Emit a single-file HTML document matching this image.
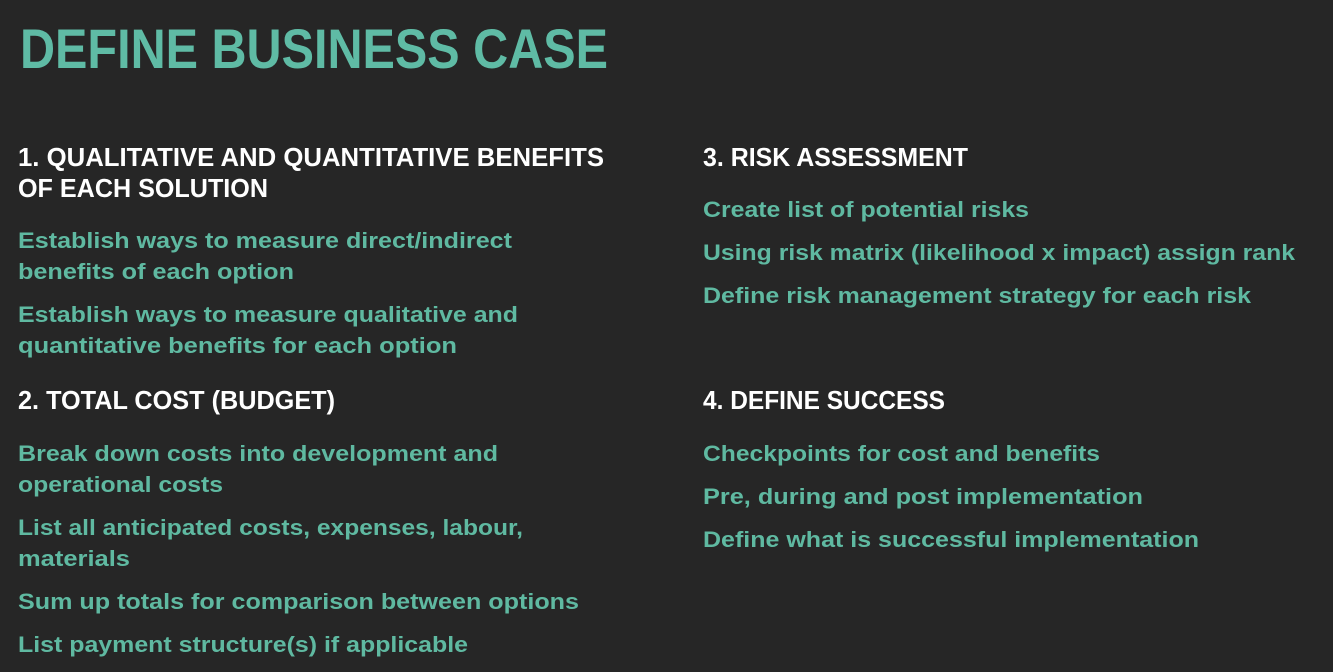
<!DOCTYPE html>
<html><head><meta charset="utf-8"><style>
html,body{margin:0;padding:0;background:#262626;}
svg{display:block;}
text{font-family:"Liberation Sans",sans-serif;font-weight:bold;}
.t{fill:#5fbba5;font-size:56px;}
.h{fill:#ffffff;font-size:26px;}
.b{fill:#5fb9a1;font-size:22px;}
</style></head><body>
<svg width="1333" height="672" viewBox="0 0 1333 672">
<rect width="1333" height="672" fill="#262626"/>
<text class="t" x="20" y="68" textLength="588" lengthAdjust="spacingAndGlyphs">DEFINE BUSINESS CASE</text>

<text class="h" x="18" y="166" textLength="586" lengthAdjust="spacingAndGlyphs">1. QUALITATIVE AND QUANTITATIVE BENEFITS</text>
<text class="h" x="18" y="197" textLength="250" lengthAdjust="spacingAndGlyphs">OF EACH SOLUTION</text>
<text class="b" x="18" y="248" textLength="494" lengthAdjust="spacingAndGlyphs">Establish ways to measure direct/indirect</text>
<text class="b" x="18" y="279" textLength="276" lengthAdjust="spacingAndGlyphs">benefits of each option</text>
<text class="b" x="18" y="322" textLength="500" lengthAdjust="spacingAndGlyphs">Establish ways to measure qualitative and</text>
<text class="b" x="18" y="353" textLength="439" lengthAdjust="spacingAndGlyphs">quantitative benefits for each option</text>

<text class="h" x="18" y="409" textLength="317" lengthAdjust="spacingAndGlyphs">2. TOTAL COST (BUDGET)</text>
<text class="b" x="18" y="461" textLength="480" lengthAdjust="spacingAndGlyphs">Break down costs into development and</text>
<text class="b" x="18" y="492" textLength="205" lengthAdjust="spacingAndGlyphs">operational costs</text>
<text class="b" x="18" y="535" textLength="505" lengthAdjust="spacingAndGlyphs">List all anticipated costs, expenses, labour,</text>
<text class="b" x="18" y="566" textLength="112" lengthAdjust="spacingAndGlyphs">materials</text>
<text class="b" x="18" y="609" textLength="561" lengthAdjust="spacingAndGlyphs">Sum up totals for comparison between options</text>
<text class="b" x="18" y="652" textLength="450" lengthAdjust="spacingAndGlyphs">List payment structure(s) if applicable</text>

<text class="h" x="703" y="166" textLength="265" lengthAdjust="spacingAndGlyphs">3. RISK ASSESSMENT</text>
<text class="b" x="703" y="217" textLength="326" lengthAdjust="spacingAndGlyphs">Create list of potential risks</text>
<text class="b" x="703" y="260" textLength="592" lengthAdjust="spacingAndGlyphs">Using risk matrix (likelihood x impact) assign rank</text>
<text class="b" x="703" y="303" textLength="548" lengthAdjust="spacingAndGlyphs">Define risk management strategy for each risk</text>

<text class="h" x="703" y="409" textLength="242" lengthAdjust="spacingAndGlyphs">4. DEFINE SUCCESS</text>
<text class="b" x="703" y="461" textLength="397" lengthAdjust="spacingAndGlyphs">Checkpoints for cost and benefits</text>
<text class="b" x="703" y="504" textLength="440" lengthAdjust="spacingAndGlyphs">Pre, during and post implementation</text>
<text class="b" x="703" y="547" textLength="496" lengthAdjust="spacingAndGlyphs">Define what is successful implementation</text>
</svg>
</body></html>
